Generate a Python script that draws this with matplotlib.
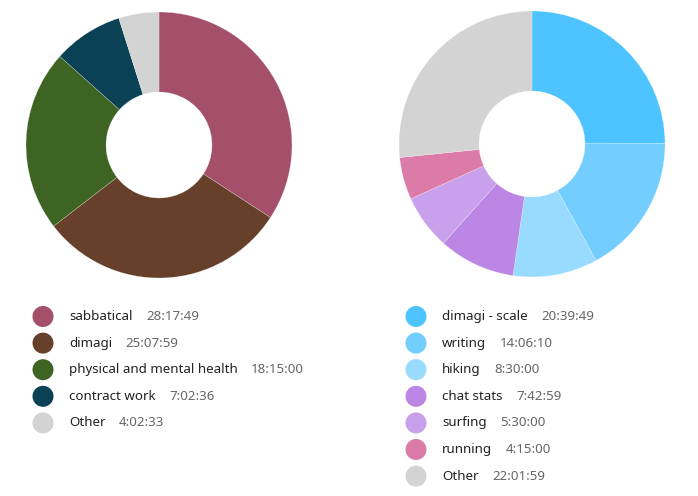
import matplotlib

matplotlib.use("Agg")
import matplotlib.pyplot as plt
from matplotlib.patches import Circle

W, H = 698, 496

# left donut: categories
left_labels = ["sabbatical", "dimagi", "physical and mental health", "contract work", "Other"]
left_times = ["28:17:49", "25:07:59", "18:15:00", "7:02:36", "4:02:33"]
left_colors = ["#a5506b", "#67402b", "#3e6424", "#0b4155", "#d3d3d3"]

# right donut: projects
right_labels = ["dimagi - scale", "writing", "hiking", "chat stats", "surfing", "running", "Other"]
right_times = ["20:39:49", "14:06:10", "8:30:00", "7:42:59", "5:30:00", "4:15:00", "22:01:59"]
right_colors = ["#4dc3ff", "#73ceff", "#99dbff", "#bc86e5", "#c9a0ec", "#dc7ba8", "#d3d3d3"]


def to_hours(s):
    h, m, sec = (int(v) for v in s.split(":"))
    return h + m / 60 + sec / 3600


plt.rcParams["font.family"] = ["Noto Sans", "DejaVu Sans"]
fig = plt.figure(figsize=(W / 100, H / 100), dpi=100)


def donut(cx, cy, r, r_in, times, colors):
    ax = fig.add_axes([(cx - r) / W, (H - cy - r) / H, 2 * r / W, 2 * r / H])
    ax.pie([to_hours(t) for t in times], colors=colors, startangle=90,
           counterclock=False, radius=1,
           wedgeprops=dict(width=1 - r_in / r, edgecolor="white", linewidth=0.15))
    ax.set_xlim(-1, 1)
    ax.set_ylim(-1, 1)
    ax.set_aspect("auto")
    ax.axis("off")


donut(159, 145, 133, 53, left_times, left_colors)
donut(532, 144, 133, 53, right_times, right_colors)

# overlay axes in pixel coords for the legends
ov = fig.add_axes([0, 0, 1, 1])
ov.set_xlim(0, W)
ov.set_ylim(H, 0)
ov.axis("off")
rend = fig.canvas.get_renderer()


def legend(x_dot, x_text, y0, dy, labels, times, colors):
    for i, (lab, tm, col) in enumerate(zip(labels, times, colors)):
        y = y0 + i * dy
        ov.add_patch(Circle((x_dot, y), 10.5, color=col, lw=0))
        t = ov.text(x_text, y, lab, fontsize=9.6, color="#222222", va="center", ha="left")
        bb = t.get_window_extent(renderer=rend)
        x1 = ov.transData.inverted().transform((bb.x1, 0))[0]
        ov.text(x1 + 13.5, y, tm, fontsize=9.6, color="#666666", va="center", ha="left")


legend(43, 69, 316.5, 26.6, left_labels, left_times, left_colors)
legend(416, 442, 316.5, 26.6, right_labels, right_times, right_colors)

fig.savefig("out.png", dpi=100)
